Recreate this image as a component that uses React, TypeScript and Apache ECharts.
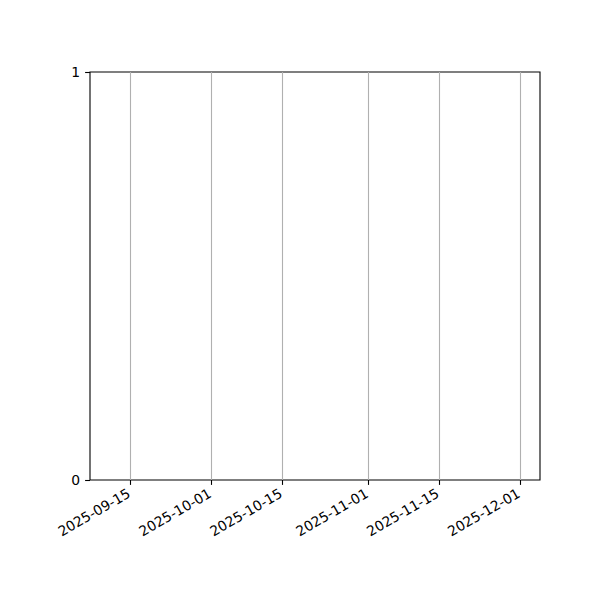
import { useEffect, useRef } from 'react';
import * as echarts from 'echarts';

// tick dates on the x axis (UTC days)
const tickDates = ['2025-09-15', '2025-10-01', '2025-10-15', '2025-11-01', '2025-11-15', '2025-12-01'];
// visible date range of the x axis
const xRange = ['2025-09-06T23:00:00Z', '2025-12-04T21:00:00Z'];
// y axis ticks
const yTicks = [0, 1];
// no data in the chart
const seriesData: [number, number][] = [];

const toTs = (s: string) => Date.parse(s.length === 10 ? s + 'T00:00:00Z' : s);
const fmtDate = (v: number) => new Date(v).toISOString().slice(0, 10);

const FONT = "'DejaVu Sans', sans-serif";

export default function App() {
  const chartRef = useRef<HTMLDivElement>(null);

  useEffect(() => {
    if (!chartRef.current) return;
    const chart = echarts.init(chartRef.current, null, { renderer: 'svg' });

    const tickValues = tickDates.map(toTs);

    const option: echarts.EChartsOption = {
      animation: false,
      backgroundColor: '#fff',
      // the grid border draws the four spines
      grid: {
        left: 90,
        right: 60,
        top: 72,
        bottom: 120,
        containLabel: false,
        show: true,
        borderColor: '#000',
        borderWidth: 1.1,
      },
      xAxis: {
        // timestamps on a plain value axis so that the ticks can be placed by hand
        type: 'value',
        min: toTs(xRange[0]),
        max: toTs(xRange[1]),
        axisLine: { show: false },
        axisTick: {
          show: true,
          customValues: tickValues,
          length: 4.9,
          inside: false,
          lineStyle: { color: '#000', width: 1.1 },
        },
        axisLabel: {
          customValues: tickValues,
          rotate: 30,
          margin: 11,
          padding: [0, 2, 0, 0],
          fontSize: 13.9,
          fontFamily: FONT,
          color: '#000',
          formatter: (v: number) => fmtDate(v),
        },
        splitLine: { show: true, lineStyle: { color: '#b0b0b0', width: 1.1 } },
      },
      yAxis: {
        type: 'value',
        min: yTicks[0],
        max: yTicks[yTicks.length - 1],
        interval: 1,
        axisLine: { show: false },
        axisTick: { show: true, length: 4.9, inside: false, lineStyle: { color: '#000', width: 1.1 } },
        axisLabel: { margin: 9.8, fontSize: 13.9, fontFamily: FONT, color: '#000' },
        splitLine: { show: false },
      },
      series: [{ type: 'line', data: seriesData, symbol: 'none' }],
    };

    chart.setOption(option);
    return () => chart.dispose();
  }, []);

  return <div ref={chartRef} style={{ width: 600, height: 600, margin: -8 }} />;
}
